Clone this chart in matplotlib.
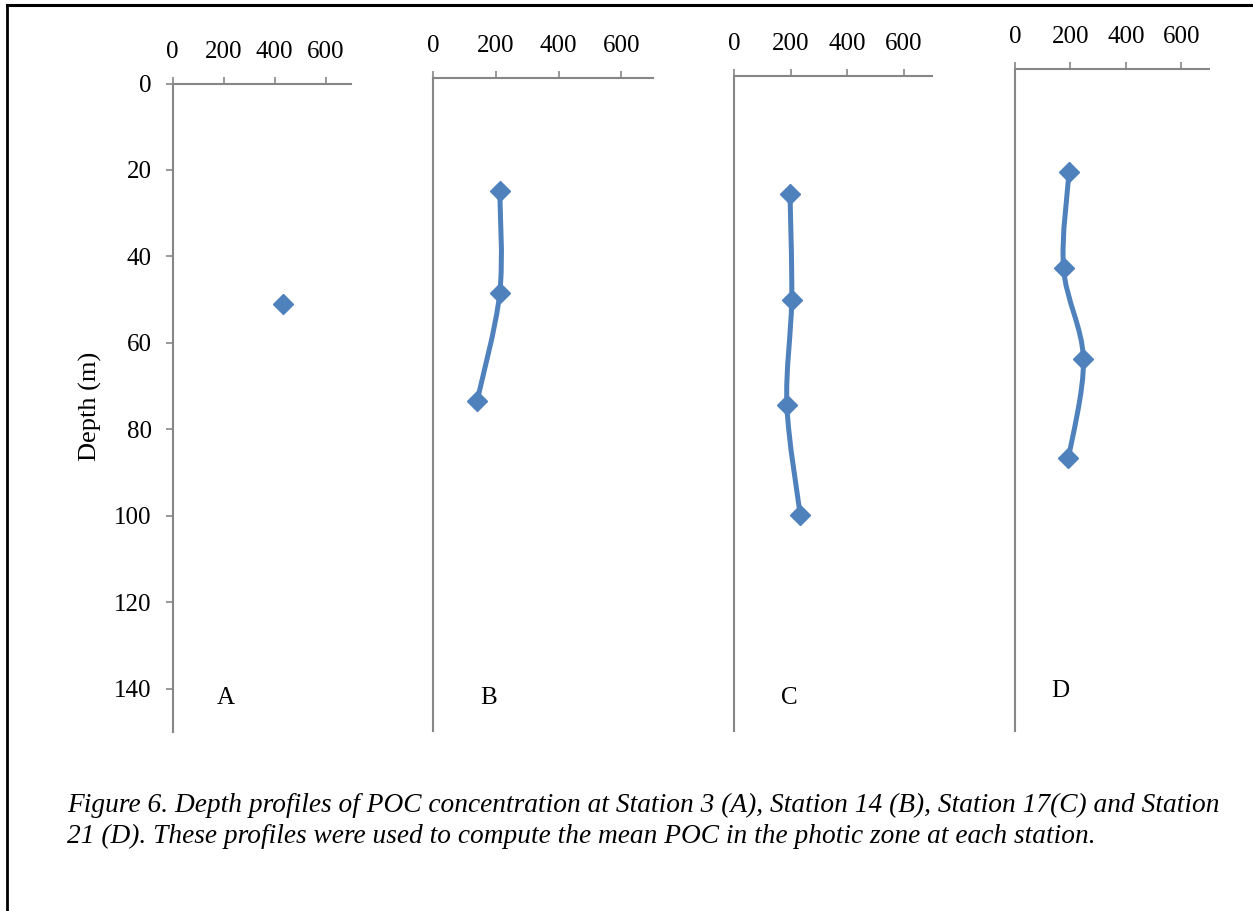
import matplotlib
matplotlib.use("Agg")
import matplotlib.pyplot as plt
from matplotlib.path import Path
from matplotlib.patches import PathPatch
from matplotlib.lines import Line2D
import numpy as np

# POC concentration profiles (x) against sampling depth in m (y)
station_labels = ["A", "B", "C", "D"]
poc_A = [433]
depth_A = [51]
poc_B = [212, 212, 140]
depth_B = [25.8, 49.4, 74.1]
poc_C = [198, 204, 187, 234]
depth_C = [27.1, 51.3, 75.4, 100.5]
poc_D = [195, 175, 247, 193]
depth_D = [23.3, 45.2, 65.8, 88.2]

x_ticks = [0, 200, 400, 600]
y_ticks = [0, 20, 40, 60, 80, 100, 120, 140]
caption_lines = [
    "Figure 6. Depth profiles of POC concentration at Station 3 (A), Station 14 (B), Station 17(C) and Station",
    "21 (D). These profiles were used to compute the mean POC in the photic zone at each station.",
]

W, H = 1253, 911
SERIES = "#4F81BD"
AXIS = "#868686"
plt.rcParams["font.family"] = ["Liberation Serif", "DejaVu Serif"]

fig = plt.figure(figsize=(W / 100, H / 100), dpi=100)

# plot-area boxes in pixels: left, top, right, bottom
boxes = [
    (172.5, 83.5, 351.0, 732.0),
    (433.3, 78.3, 652.7, 731.0),
    (734.0, 75.7, 932.0, 731.0),
    (1015.0, 69.0, 1209.0, 731.0),
]
letter_pos = [(0.30, 0.052), (0.254, 0.051), (0.278, 0.050), (0.232, 0.060)]
series = [(poc_A, depth_A), (poc_B, depth_B), (poc_C, depth_C), (poc_D, depth_D)]


def smooth_path(xs, ys):
    """Cubic Bezier path through the points (Catmull-Rom style tangents)."""
    pts = np.column_stack([xs, ys]).astype(float)
    n = len(pts)
    verts = [pts[0]]
    codes = [Path.MOVETO]
    for i in range(n - 1):
        p_prev = pts[i - 1] if i > 0 else pts[i]
        p_next2 = pts[i + 2] if i + 2 < n else pts[i + 1]
        c1 = pts[i] + (pts[i + 1] - p_prev) / 6.0
        c2 = pts[i + 1] - (p_next2 - pts[i]) / 6.0
        verts += [c1, c2, pts[i + 1]]
        codes += [Path.CURVE4] * 3
    return Path(verts, codes)


for k, ((l, t, r, b), (xs, ys)) in enumerate(zip(boxes, series)):
    ax = fig.add_axes([l / W, (H - b) / H, (r - l) / W, (b - t) / H])
    ax.set_xlim(0, 700)
    ax.set_ylim(150, 0)
    ax.patch.set_visible(False)
    for side in ("bottom", "right"):
        ax.spines[side].set_visible(False)
    for side in ("top", "left"):
        ax.spines[side].set_color(AXIS)
        ax.spines[side].set_linewidth(1.5)
    ax.xaxis.set_ticks_position("top")
    ax.set_xticks(x_ticks)
    ax.set_xticklabels([str(v) for v in x_ticks])
    ax.tick_params(axis="x", direction="out", length=5, width=1.2, color=AXIS,
                   labelsize=18, pad=10, labelcolor="black")
    if k == 0:
        ax.set_yticks(y_ticks)
        ax.set_yticklabels([str(v) for v in y_ticks])
        ax.tick_params(axis="y", direction="out", length=5, width=1.2, color=AXIS,
                       labelsize=18, pad=10, labelcolor="black")
    else:
        ax.set_yticks([])

    if len(xs) > 1:
        ax.add_patch(PathPatch(smooth_path(xs, ys), fill=False, edgecolor=SERIES,
                               linewidth=3.6, capstyle="round", joinstyle="round"))
    ax.plot(xs, ys, linestyle="none", marker="D", markersize=10,
            markerfacecolor=SERIES, markeredgecolor=SERIES, markeredgewidth=1,
            clip_on=False, zorder=5)

    lx, ly = letter_pos[k]
    ax.text(lx, ly, station_labels[k], transform=ax.transAxes, ha="center",
            va="center", fontsize=18)

fig.text(90 / W, 1 - 406 / H, "Depth (m)", rotation=90, ha="center", va="center",
         fontsize=19)

for i, line in enumerate(caption_lines):
    fig.text(67 / W, 1 - (805 + 31 * i) / H, line, ha="left", va="center",
             fontsize=19.7, style="italic")

# frame lines along the left and top edges
fig.add_artist(Line2D([7.3 / W, 7.3 / W], [0, 1 - 5 / H], transform=fig.transFigure,
                      color="black", linewidth=2.0, solid_capstyle="projecting"))
fig.add_artist(Line2D([7.3 / W, 1], [1 - 5 / H, 1 - 5 / H], transform=fig.transFigure,
                      color="black", linewidth=2.2, solid_capstyle="projecting"))

fig.savefig("out.png", dpi=100)
